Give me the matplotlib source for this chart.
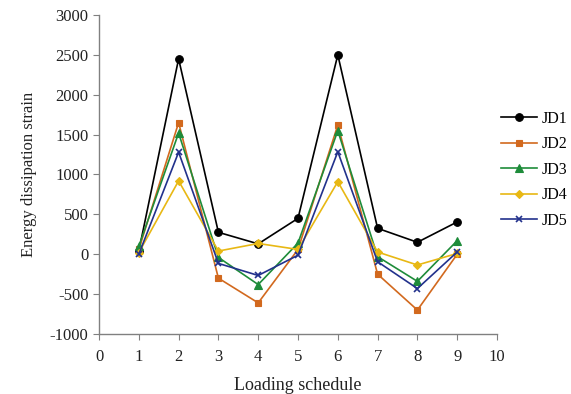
import matplotlib
matplotlib.use("Agg")
import matplotlib.pyplot as plt

x = [1, 2, 3, 4, 5, 6, 7, 8, 9]
series_names = ["JD1", "JD2", "JD3", "JD4", "JD5"]
jd1 = [40, 2450, 275, 130, 450, 2500, 325, 150, 405]
jd2 = [60, 1650, -300, -610, 60, 1620, -250, -700, 0]
jd3 = [100, 1520, -40, -380, 140, 1550, -30, -340, 170]
jd4 = [20, 920, 40, 135, 60, 910, 28, -135, 10]
jd5 = [0, 1280, -115, -266, -12, 1285, -94, -430, 28]
y_ticks = [-1000, -500, 0, 500, 1000, 1500, 2000, 2500, 3000]
x_ticks = [0, 1, 2, 3, 4, 5, 6, 7, 8, 9, 10]

colors = ["#000000", "#D2691E", "#1E8C3A", "#E8B814", "#22318C"]
markers = ["o", "s", "^", "D", "x"]
msizes = [5.5, 5, 5.5, 4, 5]

plt.rcParams['font.family'] = ['Liberation Serif', 'DejaVu Serif']
plt.rcParams['axes.unicode_minus'] = False

fig = plt.figure(figsize=(5.71, 3.94), dpi=100)
ax = fig.add_axes([0.1734, 0.1523, 0.697, 0.8097])

for name, ys, c, m, ms in zip(series_names, [jd1, jd2, jd3, jd4, jd5], colors, markers, msizes):
    ax.plot(x, ys, color=c, marker=m, markersize=ms, linewidth=1.2, label=name,
            markeredgewidth=1.2 if m == "x" else 0.8)

ax.set_xlim(0, 10)
ax.set_ylim(-1000, 3000)
ax.set_xticks(x_ticks)
ax.set_yticks(y_ticks)
ax.spines['top'].set_visible(False)
ax.spines['right'].set_visible(False)
for s in ['left', 'bottom']:
    ax.spines[s].set_color('#808080')
    ax.spines[s].set_linewidth(1.0)
ax.tick_params(axis='both', direction='out', length=4.5, color='#808080', labelsize=12, labelcolor='#222222')
ax.tick_params(axis='x', pad=6)
ax.tick_params(axis='y', pad=3)
ax.set_xlabel("Loading schedule", fontsize=13, color='#222222', labelpad=9)
ax.set_ylabel("Energy dissipation strain", fontsize=12, color='#222222', labelpad=9)

ax.legend(loc='center left', bbox_to_anchor=(0.995, 0.515), frameon=False, fontsize=11.5,
          handlelength=2.2, labelspacing=0.6, handletextpad=0.3, borderaxespad=0)

fig.savefig("out.png", dpi=100)
